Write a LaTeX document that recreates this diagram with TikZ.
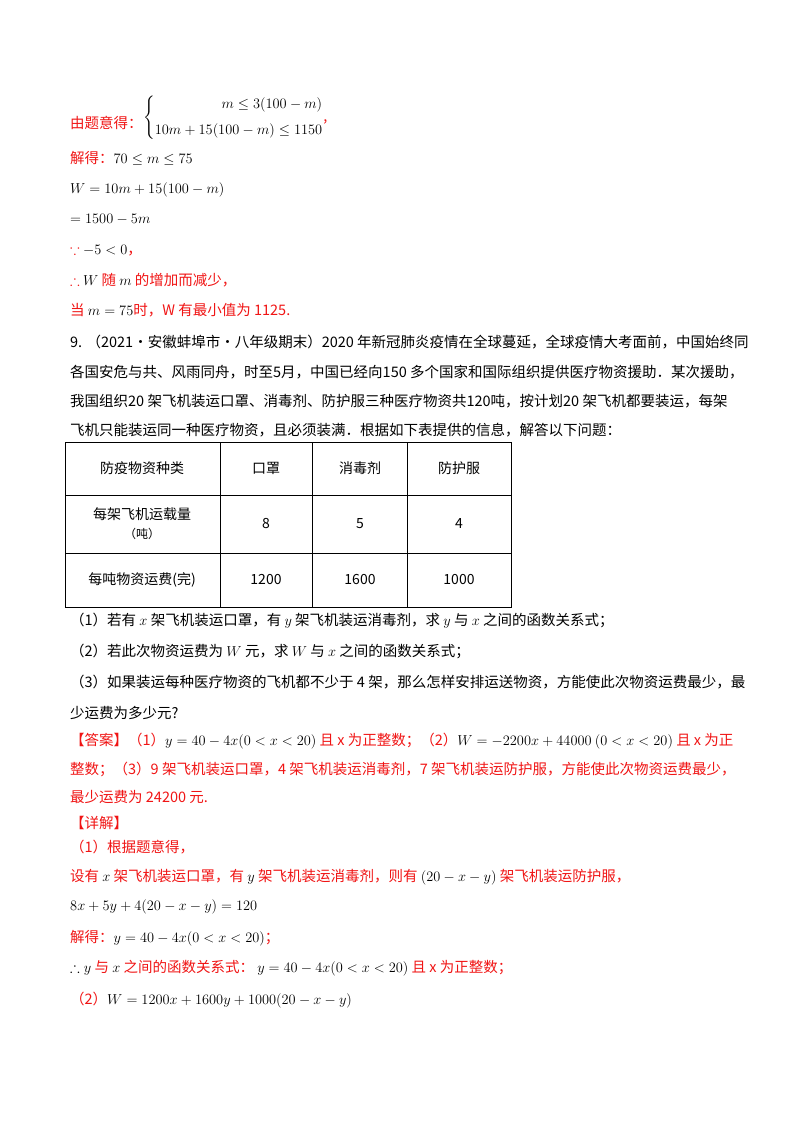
\documentclass[tikz,border=0pt]{standalone}
\usepackage{fontspec}
\setmainfont{Noto Sans CJK SC}
\usepackage{amssymb}
\begin{document}
\begin{tikzpicture}[x=1pt,y=-1pt,
 ln/.style={anchor=base west,inner sep=0pt,font=\fontsize{14.5}{17}\selectfont},
 rd/.style={ln,text=red},
 cell/.style={inner sep=0pt,font=\fontsize{14}{17}\selectfont,align=center}]
\useasboundingbox (0,0) rectangle (800,1132);
\definecolor{red}{RGB}{240,20,20}
\node[rd] (l1) at (70,128) {由题意得：};
\node[ln,anchor=west] (l1b) at (143,118) {$\left\{\begin{array}{@{}r@{}}m\le 3(100-m)\\[9pt] 10m+15(100-m)\le 1150\end{array}\right.$\textcolor{red}{,}};
\node[rd] (l2) at (70,163) {解得：\textcolor{black}{$70\le m\le 75$}};
\node[ln] (l3) at (70,193) {$W=10m+15(100-m)$};
\node[ln] (l4) at (70,223) {$=1500-5m$};
\node[rd] (l5) at (70,254) {$\because$ \textcolor{black}{$-5<0$}，};
\node[rd] (l6) at (70,285) {$\therefore$ \textcolor{black}{$W$} 随 \textcolor{black}{$m$} 的增加而减少，};
\node[rd] (l7) at (70,315) {当 \textcolor{black}{$m=75$}时，W 有最小值为 1125.};
\node[ln] (p1) at (70,347) {9. （2021·安徽蚌埠市·八年级期末）2020 年新冠肺炎疫情在全球蔓延，全球疫情大考面前，中国始终同};
\node[ln] (p2) at (70,377) {各国安危与共、风雨同舟，时至5月，中国已经向150 多个国家和国际组织提供医疗物资援助．某次援助，};
\node[ln] (p3) at (70,406) {我国组织20 架飞机装运口罩、消毒剂、防护服三种医疗物资共120吨，按计划20 架飞机都要装运，每架};
\node[ln] (p4) at (70,435) {飞机只能装运同一种医疗物资，且必须装满．根据如下表提供的信息，解答以下问题：};
% table
\draw[line width=0.8pt] (65,442) rectangle (511,607);
\foreach \yy in {495,553} \draw[line width=0.8pt] (65,\yy) -- (511,\yy);
\foreach \xx in {220,312,407} \draw[line width=0.8pt] (\xx,442) -- (\xx,607);
\node[cell] (t11) at (142,468) {防疫物资种类};
\node[cell] (t12) at (266,468) {口罩};
\node[cell] (t13) at (360,468) {消毒剂};
\node[cell] (t14) at (459,468) {防护服};
\node[cell] (t21) at (142,524) {每架飞机运载量\\[2pt]{\fontsize{12}{14}\selectfont（吨）}};
\node[cell] (t22) at (266,524) {8};
\node[cell] (t23) at (360,524) {5};
\node[cell] (t24) at (459,524) {4};
\node[cell] (t31) at (142,580) {每吨物资运费(完)};
\node[cell] (t32) at (266,580) {1200};
\node[cell] (t33) at (360,580) {1600};
\node[cell] (t34) at (459,580) {1000};
\node[ln] (q1) at (70,625) {（1）若有 $x$ 架飞机装运口罩，有 $y$ 架飞机装运消毒剂，求 $y$ 与 $x$ 之间的函数关系式；};
\node[ln] (q2) at (70,656) {（2）若此次物资运费为 $W$ 元，求 $W$ 与 $x$ 之间的函数关系式；};
\node[ln] (q3) at (70,687) {（3）如果装运每种医疗物资的飞机都不少于 4 架，那么怎样安排运送物资，方能使此次物资运费最少，最};
\node[ln] (q4) at (70,718) {少运费为多少元?};
\node[rd] (a1) at (70,745) {【答案】（1）\textcolor{black}{$y=40-4x(0<x<20)$} 且 x 为正整数；（2）\textcolor{black}{$W=-2200x+44000\ (0<x<20)$} 且 x 为正};
\node[rd] (a2) at (70,774) {整数；（3）9 架飞机装运口罩，4 架飞机装运消毒剂，7 架飞机装运防护服，方能使此次物资运费最少，};
\node[rd] (a3) at (70,802) {最少运费为 24200 元.};
\node[rd] (d0) at (70,828) {【详解】};
\node[rd] (d1) at (70,852) {（1）根据题意得，};
\node[rd] (d2) at (70,881) {设有 \textcolor{black}{$x$} 架飞机装运口罩，有 \textcolor{black}{$y$} 架飞机装运消毒剂，则有 \textcolor{black}{$(20-x-y)$} 架飞机装运防护服，};
\node[ln] (d3) at (70,910) {$8x+5y+4(20-x-y)=120$};
\node[rd] (d4) at (70,942) {解得：\textcolor{black}{$y=40-4x(0<x<20)$}；};
\node[ln] (d5) at (70,972) {$\therefore y$ \textcolor{red}{与} $x$ \textcolor{red}{之间的函数关系式：} $y=40-4x(0<x<20)$ \textcolor{red}{且 x 为正整数；}};
\node[rd] (d6) at (70,1004) {（2）\textcolor{black}{$W=1200x+1600y+1000(20-x-y)$}};
\end{tikzpicture}
\end{document}
